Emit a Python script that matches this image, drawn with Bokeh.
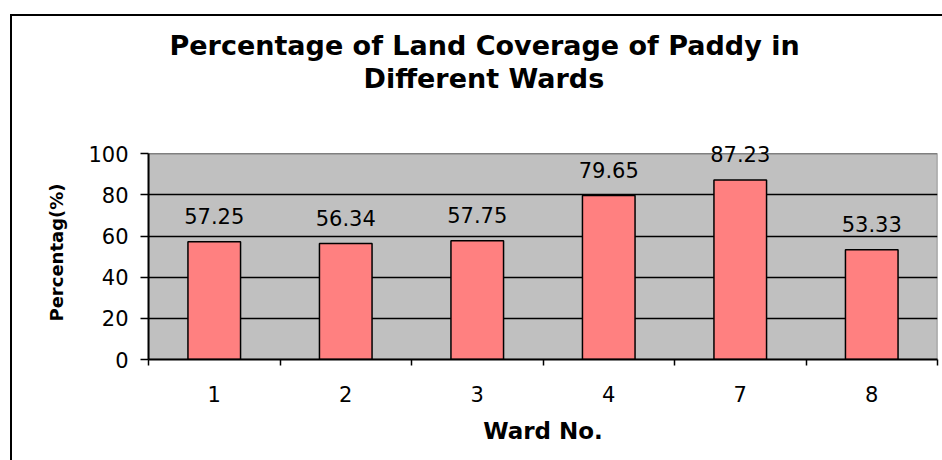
from bokeh.plotting import figure
from bokeh.models import Range1d, FixedTicker, ColumnDataSource, Label, Title
from bokeh.embed import file_html
from bokeh.resources import INLINE

# ---- data ----
wards = ["1", "2", "3", "4", "7", "8"]
coverage = [57.25, 56.34, 57.75, 79.65, 87.23, 53.33]
y_ticks = [0, 20, 40, 60, 80, 100]
grid_ticks = [20, 40, 60, 80]
title_lines = ["Percentage of Land Coverage of Paddy in", "Different Wards"]
x_title = "Ward No."
y_title = "Percentag(%)"

FONT = "DejaVu Sans"

xpos = [i + 0.5 for i in range(len(wards))]
labels = [f"{v:.2f}" for v in coverage]
src = ColumnDataSource(dict(x=xpos, top=coverage, label=labels))

# the frame reaches a little above 100 so that the top data label is not clipped;
# the grey plot area itself (0..100) is drawn as a quad underneath
p = figure(width=942, height=460, output_backend="svg", toolbar_location=None,
           x_range=Range1d(0, len(wards)), y_range=Range1d(y_ticks[0], 104),
           min_border_left=148, min_border_right=5, min_border_top=145,
           min_border_bottom=101)

p.background_fill_alpha = 0
p.border_fill_alpha = 0
p.outline_line_color = None
p.styles = {
    "background": ("linear-gradient(#000,#000) 10px 14px / 2px 2000px no-repeat, "
                   "linear-gradient(#000,#000) 10px 14px / 3000px 2px no-repeat, #ffffff")
}

# plot area
p.quad(left=[0], right=[len(wards)], bottom=[y_ticks[0]], top=[y_ticks[-1]],
       fill_color="#C0C0C0", line_color="#808080", line_width=1.5, level="image")

spacer = Title(text=" ", text_font_size="1px", standoff=49)
t2 = Title(text=title_lines[1], align="left", offset=215, text_font=FONT,
           text_font_size="27px", text_font_style="bold", text_color="black",
           standoff=0)
t1 = Title(text=title_lines[0], align="left", offset=21, text_font=FONT,
           text_font_size="27px", text_font_style="bold", text_color="black",
           standoff=0)
p.add_layout(spacer, "above")
p.add_layout(t2, "above")
p.add_layout(t1, "above")

p.vbar(x="x", top="top", width=0.4, source=src, fill_color="#FF8080",
       line_color="black", line_width=1.5)

# data labels
for xv, yv, lab in zip(src.data["x"], src.data["top"], src.data["label"]):
    p.add_layout(Label(x=xv, y=yv, text=lab, y_offset=26, text_align="center",
                       text_baseline="alphabetic", text_font=FONT,
                       text_font_size="21px", text_color="black"))

xa = p.xaxis[0]
xa.ticker = FixedTicker(ticks=xpos, minor_ticks=list(range(len(wards) + 1)))
xa.major_label_overrides = {x: w for x, w in zip(xpos, wards)}
xa.major_tick_out = 0
xa.major_tick_in = 0
xa.minor_tick_out = 6
xa.minor_tick_in = 0
xa.minor_tick_line_color = "black"
xa.minor_tick_line_width = 1.5
xa.axis_line_color = "black"
xa.axis_line_width = 2
xa.major_label_standoff = 20
xa.major_label_text_font = FONT
xa.major_label_text_font_size = "21px"
xa.major_label_text_color = "black"
xa.axis_label = x_title
xa.axis_label_text_font = FONT
xa.axis_label_text_font_size = "23px"
xa.axis_label_text_font_style = "bold"
xa.axis_label_text_color = "black"
xa.axis_label_standoff = 13

ya = p.yaxis[0]
ya.bounds = (y_ticks[0], y_ticks[-1])
ya.ticker = FixedTicker(ticks=y_ticks, minor_ticks=[])
ya.major_tick_out = 8
ya.major_tick_in = 0
ya.major_tick_line_color = "black"
ya.major_tick_line_width = 1.5
ya.minor_tick_out = 0
ya.axis_line_color = "black"
ya.axis_line_width = 2
ya.major_label_standoff = 12
ya.major_label_text_font = FONT
ya.major_label_text_font_size = "21px"
ya.major_label_text_color = "black"
ya.axis_label = y_title
ya.axis_label_text_font = FONT
ya.axis_label_text_font_size = "18px"
ya.axis_label_text_font_style = "bold"
ya.axis_label_text_color = "black"
ya.axis_label_standoff = 18

p.xgrid.visible = False
p.ygrid.ticker = FixedTicker(ticks=grid_ticks)
p.ygrid.grid_line_color = "black"
p.ygrid.grid_line_width = 1.5

open("out.html", "w").write(file_html(p, INLINE))
